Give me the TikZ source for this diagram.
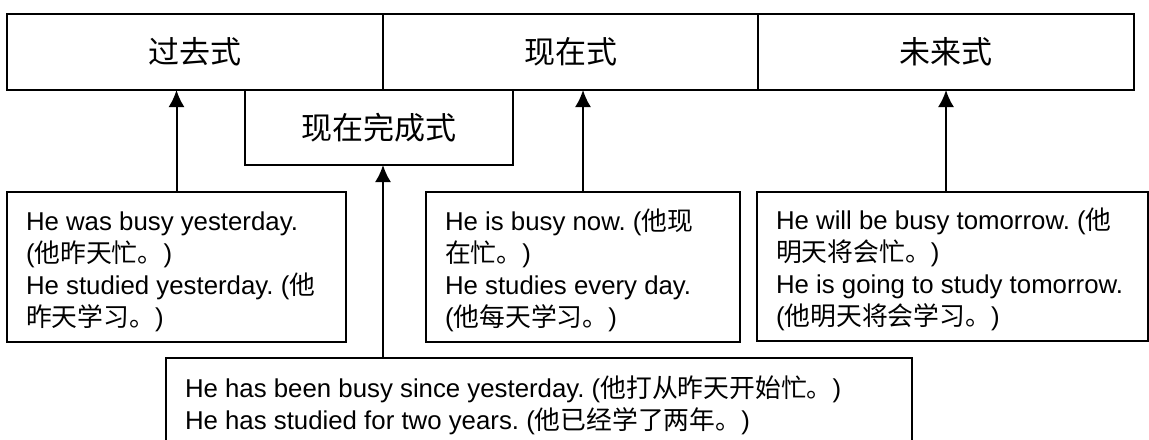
\documentclass[tikz,border=0pt]{standalone}
\usepackage{fontspec}
\setmainfont{Liberation Sans}
\newfontfamily\cjk{Noto Sans CJK SC}
\usetikzlibrary{arrows.meta, positioning}

\newcommand\egfont{\fontsize{12.9pt}{16pt}\selectfont}
\newcommand\egspaces{\frenchspacing\spaceskip 0pt\xspaceskip 0pt\hyphenpenalty 10000\relax}

\begin{document}
\begin{tikzpicture}[x=0.5pt, y=-0.5pt, line width=1pt, >={Latex[length=8.5pt, width=8pt]},
    tense/.style={draw, outer sep=0pt, inner sep=0pt, minimum height=38pt, font=\fontsize{15.5pt}{18pt}\cjk},
    eg/.style={draw, outer sep=0pt, inner xsep=9.5pt, inner ysep=0pt, align=left, anchor=north west,
        font=\egfont, execute at begin node=\egspaces}]

\useasboundingbox (0,0) rectangle (1149,439);
\clip (0,0) rectangle (1149,439);

%\draw[step=50, color=gray!30, line width=0.2pt] (0,0) grid (1149,439);

% tenses
\node[tense, minimum width=188pt, anchor=north west] (guoqu) at (7,14) {过去式};
\node[tense, minimum width=187.5pt, right=0pt of guoqu] (xianzai) {现在式};
\node[tense, minimum width=188pt, right=0pt of xianzai] (weilai) {未来式};
\node[tense, minimum width=134pt, minimum height=37.5pt, anchor=north west] (wancheng) at (245,90) {现在完成式};

% examples
\node[eg, text width=150.5pt, text height=14pt, minimum height=75pt] (pastbox) at (7,192)
    {He was busy yesterday.\\ ({\cjk 他昨天忙。})\\ He studied yesterday. ({\cjk 他}\\ {\cjk 昨天学习。})};
\node[eg, text width=138pt, text height=14pt, minimum height=75pt] (presbox) at (426,192)
    {He is busy now. ({\cjk 他现}\\ {\cjk 在忙。})\\ He studies every day.\\ ({\cjk 他每天学习。})};
\node[eg, text width=176.5pt, text height=14pt, minimum height=74.5pt] (futbox) at (757,192)
    {He will be busy tomorrow. ({\cjk 他}\\ {\cjk 明天将会忙。})\\ He is going to study tomorrow.\\ ({\cjk 他明天将会学习。})};
\node[eg, text width=354pt, minimum height=47pt] (perfbox) at (166,358)
    {He has been busy since yesterday. ({\cjk 他打从昨天开始忙。})\\ He has studied for two years. ({\cjk 他已经学了两年。})};

\draw[->] (pastbox.north) -- (pastbox.north |- guoqu.south);
\draw[->] (presbox.north) -- (presbox.north |- xianzai.south);
\draw[->] (futbox.north -| weilai.south) -- (weilai.south);
\draw[->] (perfbox.north -| guoqu.south east) -- (wancheng.south -| guoqu.south east);

\end{tikzpicture}
\end{document}
